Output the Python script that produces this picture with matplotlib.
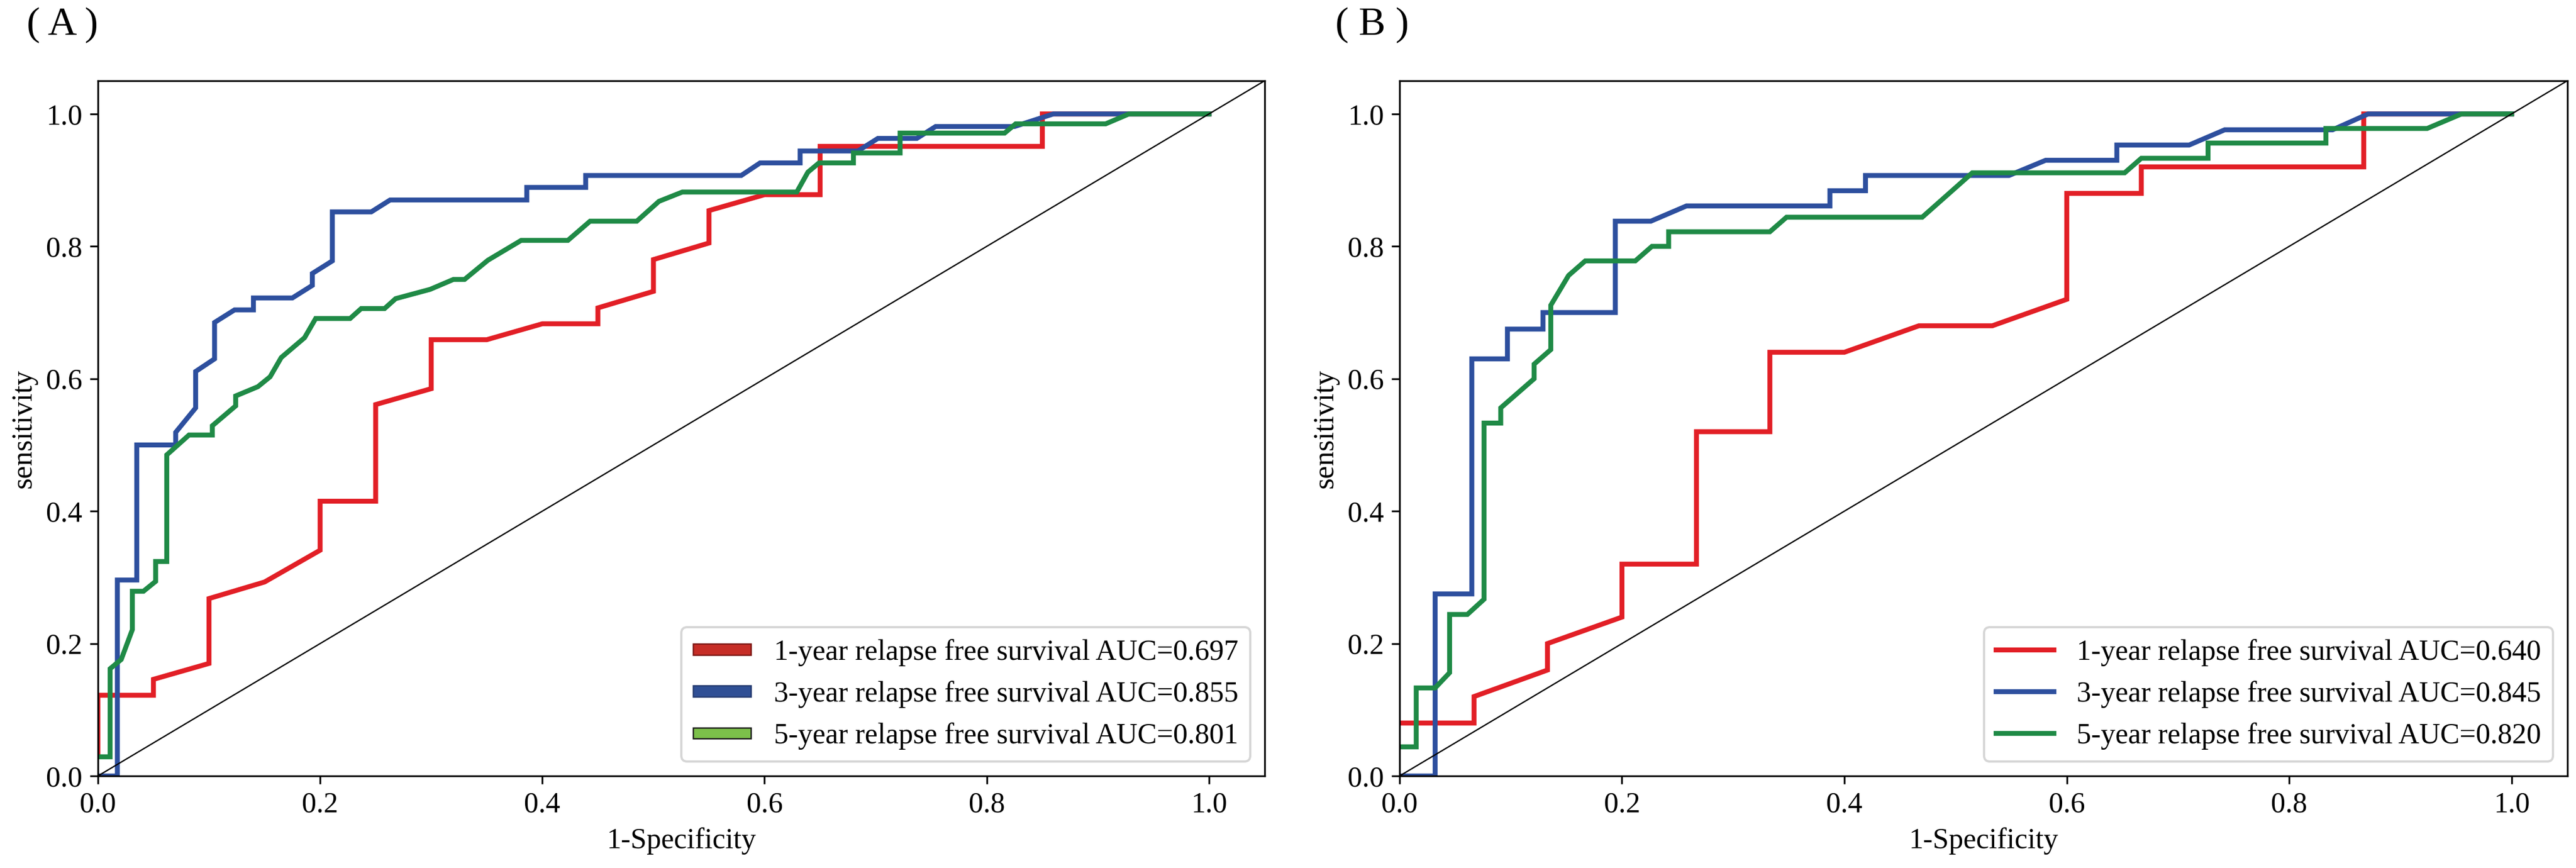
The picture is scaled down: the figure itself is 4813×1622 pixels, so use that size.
import matplotlib
matplotlib.use("Agg")
import matplotlib.pyplot as plt
import matplotlib.patches as mpatches

plt.rcParams['font.family'] = ['Liberation Serif', 'DejaVu Serif']
plt.rcParams['font.size'] = 13

# ---- Panel A: ROC vertices ----
a_fpr_1y = [0, 0, 0.05, 0.05, 0.10, 0.10, 0.15, 0.20, 0.20, 0.25, 0.25, 0.30, 0.30,
            0.35, 0.40, 0.45, 0.45, 0.50, 0.50, 0.55, 0.55, 0.60, 0.65, 0.65, 0.85, 0.85, 1.0]
a_tpr_1y = [0.030, 0.122, 0.122, 0.146, 0.170, 0.268, 0.293, 0.341, 0.415, 0.415, 0.561, 0.585, 0.659,
            0.659, 0.683, 0.683, 0.707, 0.732, 0.780, 0.805, 0.854, 0.878, 0.878, 0.951, 0.951, 1.0, 1.0]

a_fpr_3y = [0, 0.0175, 0.0175, 0.035, 0.035, 0.070, 0.070, 0.088, 0.088, 0.105, 0.105, 0.123,
            0.140, 0.140, 0.175, 0.193, 0.193, 0.211, 0.211, 0.246, 0.263, 0.386, 0.386, 0.439,
            0.439, 0.579, 0.596, 0.632, 0.632, 0.684, 0.702, 0.737, 0.754, 0.825, 0.860, 1.0]
a_tpr_3y = [0, 0, 0.296, 0.296, 0.500, 0.500, 0.519, 0.556, 0.611, 0.630, 0.685, 0.704,
            0.704, 0.722, 0.722, 0.741, 0.759, 0.778, 0.852, 0.852, 0.870, 0.870, 0.889, 0.889,
            0.907, 0.907, 0.926, 0.926, 0.944, 0.944, 0.963, 0.963, 0.981, 0.981, 1.0, 1.0]

a_fpr_5y = [0, 0.011, 0.011, 0.021, 0.031, 0.031, 0.041, 0.052, 0.052, 0.062, 0.062, 0.082,
            0.103, 0.103, 0.124, 0.124, 0.144, 0.155, 0.165, 0.186, 0.196, 0.227, 0.237, 0.258,
            0.268, 0.299, 0.320, 0.330, 0.351, 0.381, 0.423, 0.443, 0.485, 0.505, 0.526, 0.629,
            0.639, 0.649, 0.680, 0.680, 0.722, 0.722, 0.816, 0.826, 0.907, 0.928, 1.0]
a_tpr_5y = [0.029, 0.029, 0.162, 0.176, 0.221, 0.279, 0.279, 0.294, 0.324, 0.324, 0.485, 0.515,
            0.515, 0.529, 0.559, 0.574, 0.588, 0.603, 0.632, 0.662, 0.691, 0.691, 0.706, 0.706,
            0.721, 0.735, 0.750, 0.750, 0.779, 0.809, 0.809, 0.838, 0.838, 0.868, 0.882, 0.882,
            0.912, 0.926, 0.926, 0.941, 0.941, 0.971, 0.971, 0.985, 0.985, 1.0, 1.0]

a_labels = ['1-year relapse free survival AUC=0.697',
            '3-year relapse free survival AUC=0.855',
            '5-year relapse free survival AUC=0.801']

# ---- Panel B ----
b_fpr_1y = [0, 0.067, 0.067, 0.133, 0.133, 0.200, 0.200, 0.267, 0.267, 0.333, 0.333, 0.400,
            0.467, 0.533, 0.600, 0.600, 0.667, 0.667, 0.867, 0.867, 1.0]
b_tpr_1y = [0.08, 0.08, 0.12, 0.16, 0.20, 0.24, 0.32, 0.32, 0.52, 0.52, 0.64, 0.64,
            0.68, 0.68, 0.72, 0.88, 0.88, 0.92, 0.92, 1.0, 1.0]

b_fpr_3y = [0, 0.032, 0.032, 0.065, 0.065, 0.097, 0.097, 0.129, 0.129, 0.194, 0.194, 0.226,
            0.258, 0.387, 0.387, 0.419, 0.419, 0.548, 0.581, 0.645, 0.645, 0.710, 0.742, 0.839,
            0.871, 1.0]
b_tpr_3y = [0, 0, 0.275, 0.275, 0.630, 0.630, 0.675, 0.675, 0.700, 0.700, 0.838, 0.838,
            0.861, 0.861, 0.884, 0.884, 0.907, 0.907, 0.930, 0.930, 0.953, 0.953, 0.976, 0.976,
            1.0, 1.0]

b_fpr_5y = [0, 0.015, 0.015, 0.032, 0.045, 0.045, 0.061, 0.076, 0.076, 0.091, 0.091, 0.121,
            0.121, 0.136, 0.136, 0.152, 0.167, 0.212, 0.227, 0.242, 0.242, 0.333, 0.348, 0.470,
            0.515, 0.652, 0.667, 0.727, 0.727, 0.833, 0.833, 0.924, 0.955, 1.0]
b_tpr_5y = [0.044, 0.044, 0.133, 0.133, 0.156, 0.244, 0.244, 0.267, 0.533, 0.533, 0.556, 0.600,
            0.622, 0.644, 0.711, 0.756, 0.778, 0.778, 0.800, 0.800, 0.822, 0.822, 0.844, 0.844,
            0.911, 0.911, 0.933, 0.933, 0.956, 0.956, 0.978, 0.978, 1.0, 1.0]

b_labels = ['1-year relapse free survival AUC=0.640',
            '3-year relapse free survival AUC=0.845',
            '5-year relapse free survival AUC=0.820']

ticks = [0.0, 0.2, 0.4, 0.6, 0.8, 1.0]
c_red, c_blue, c_green = '#e21f26', '#2d4f9e', '#1f8a46'


def roc_axes(ax, curves, labels):
    lines = []
    for (fpr, tpr), col, lab in zip(curves, [c_red, c_blue, c_green], labels):
        ln, = ax.plot(fpr, tpr, color=col, lw=2.2, label=lab, solid_joinstyle='miter')
        lines.append(ln)
    ax.plot([0, 1.05], [0, 1.05], color='black', lw=0.6)
    ax.set_xlim(0, 1.05)
    ax.set_ylim(0, 1.05)
    ax.set_xticks(ticks)
    ax.set_yticks(ticks)
    ax.set_xlabel('1-Specificity')
    ax.set_ylabel('sensitivity')
    return lines


fig = plt.figure(figsize=(4813 / 300, 1622 / 300), dpi=300)
ax_a = fig.add_axes([0.0380, 0.1060, 0.4529, 0.8009])
ax_b = fig.add_axes([0.5433, 0.1060, 0.4533, 0.8009])

roc_axes(ax_a, [(a_fpr_1y, a_tpr_1y), (a_fpr_3y, a_tpr_3y), (a_fpr_5y, a_tpr_5y)], a_labels)
lines_b = roc_axes(ax_b, [(b_fpr_1y, b_tpr_1y), (b_fpr_3y, b_tpr_3y), (b_fpr_5y, b_tpr_5y)], b_labels)

# panel A legend uses outlined bar handles
handles_a = [mpatches.Patch(facecolor='#c62d26', edgecolor='#7a1512', lw=0.6),
             mpatches.Patch(facecolor='#2f4f95', edgecolor='#23396e', lw=0.6),
             mpatches.Patch(facecolor='#7cc04a', edgecolor='#1a1a1a', lw=0.6)]
ax_a.legend(handles_a, a_labels, loc='lower right', handleheight=0.2)
ax_b.legend(lines_b, b_labels, loc='lower right')

fig.text(0.0243, 0.971, '( A )', fontsize=18, ha='center', va='center')
fig.text(0.5326, 0.971, '( B )', fontsize=18, ha='center', va='center')

fig.savefig('out.png', dpi=300)
